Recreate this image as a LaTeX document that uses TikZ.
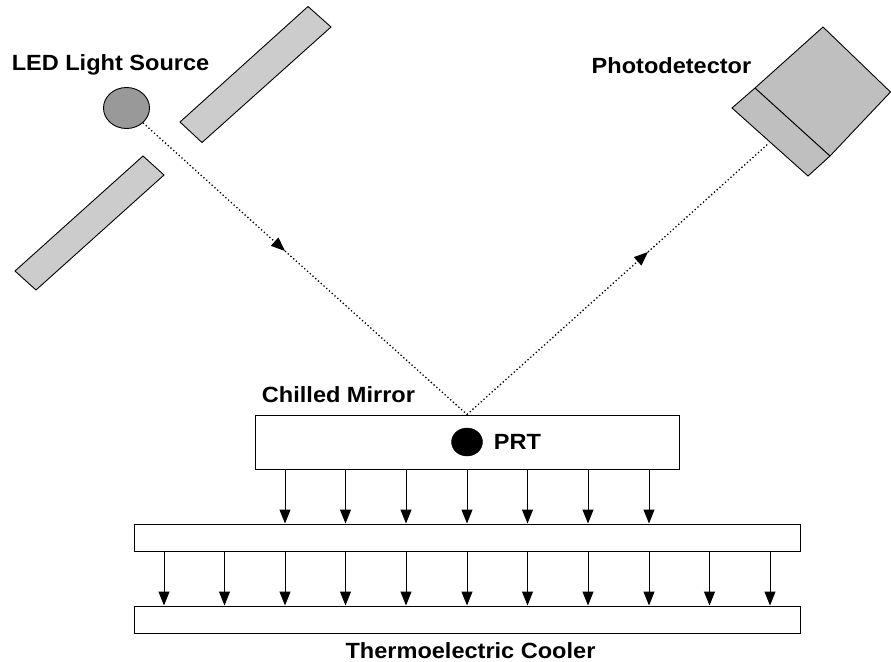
\documentclass[tikz,border=0pt]{standalone}
\usepackage{fontspec}
\setmainfont[FakeStretch=1.07]{Liberation Sans}
\usetikzlibrary{arrows.meta,shapes.geometric}
\tikzset{
	bar/.style={draw, line width=1pt, inner sep=0pt, minimum width=666pt, minimum height=27pt},
	txt/.style={inner sep=0pt, font=\fontsize{22}{24}\selectfont\bfseries},
	heat/.style={line width=1pt, -{Triangle[length=14pt, width=11pt]}},
	beam/.style={line width=1.3pt, dash pattern=on 1.3pt off 2.4pt, -{Triangle[length=14pt, width=11pt]}},
	beamend/.style={line width=1.3pt, dash pattern=on 1.3pt off 2.4pt},
	slab/.style={draw, line width=0.9pt, fill=black!20},
}

\begin{document}
\begin{tikzpicture}[x=1pt, y=-1pt]
		%%%%% START %%%%%
		\useasboundingbox (0, 0) rectangle (891, 661);
		
		% slit
		\draw[slab] (308, 6.5) -- (331, 27) -- (202, 142.5) -- (180, 122) -- cycle;
		\draw[slab] (143, 156) -- (164, 175) -- (36, 290) -- (15, 271) -- cycle;
		
		% source and detector
		\node[draw, ellipse, line width=0.9pt, fill=black!40, inner sep=0pt, minimum width=46pt, minimum height=41pt] (led) at (126.5, 108) {};
		\draw[line width=0.9pt, fill=black!25] (823, 27) -- (890.5, 92) -- (830, 156) -- (808, 176) -- (732, 108) -- (755, 88) -- cycle;
		\draw[line width=1pt] (755, 88) -- (830, 156);
		\coordinate (pdin) at (769, 143);
		
		% mirror and cooler
		\node[bar, minimum width=424pt, minimum height=54pt] (mirror) at (467, 442) {};
		\node[bar] (plate) at (467, 537.5) {};
		\node[bar] (cooler) at (467, 619.5) {};
		\node[draw, ellipse, fill=black, inner sep=0pt, minimum width=31pt, minimum height=28pt] (prt) at (467, 442) {};
		
		% light path
		\coordinate (tipin) at (285, 251);
		\coordinate (tipout) at (648, 252);
		\draw[beam] (led.-42) -- (tipin);
		\draw[beamend] (tipin) -- (mirror.north);
		\draw[beam] (mirror.north) -- (tipout);
		\draw[beamend] (tipout) -- (pdin);
		
		% heat flow
		\draw[heat] (mirror.south -| 285, 0) -- (plate.north -| 285, 0);
		\draw[heat] (mirror.south -| 345.5, 0) -- (plate.north -| 345.5, 0);
		\draw[heat] (mirror.south -| 406, 0) -- (plate.north -| 406, 0);
		\draw[heat] (mirror.south -| 467, 0) -- (plate.north -| 467, 0);
		\draw[heat] (mirror.south -| 527.5, 0) -- (plate.north -| 527.5, 0);
		\draw[heat] (mirror.south -| 588, 0) -- (plate.north -| 588, 0);
		\draw[heat] (mirror.south -| 649, 0) -- (plate.north -| 649, 0);
		
		\draw[heat] (plate.south -| 164, 0) -- (cooler.north -| 164, 0);
		\draw[heat] (plate.south -| 224.5, 0) -- (cooler.north -| 224.5, 0);
		\draw[heat] (plate.south -| 285, 0) -- (cooler.north -| 285, 0);
		\draw[heat] (plate.south -| 345.5, 0) -- (cooler.north -| 345.5, 0);
		\draw[heat] (plate.south -| 406, 0) -- (cooler.north -| 406, 0);
		\draw[heat] (plate.south -| 467, 0) -- (cooler.north -| 467, 0);
		\draw[heat] (plate.south -| 527.5, 0) -- (cooler.north -| 527.5, 0);
		\draw[heat] (plate.south -| 588, 0) -- (cooler.north -| 588, 0);
		\draw[heat] (plate.south -| 649, 0) -- (cooler.north -| 649, 0);
		\draw[heat] (plate.south -| 709.5, 0) -- (cooler.north -| 709.5, 0);
		\draw[heat] (plate.south -| 770, 0) -- (cooler.north -| 770, 0);
		
		% labels
		\node[txt] (ledtxt) at (110.5, 65) {LED Light Source};
		\node[txt] (pdtxt) at (671.5, 65.5) {Photodetector};
		\node[txt] (mirrortxt) at (338.5, 395) {Chilled Mirror};
		\node[txt] (prttxt) at (517.5, 442) {PRT};
		\node[txt] (coolertxt) at (470.5, 650.5) {Thermoelectric Cooler};
		
		%%%%% END %%%%%
	\end{tikzpicture}
\end{document}
